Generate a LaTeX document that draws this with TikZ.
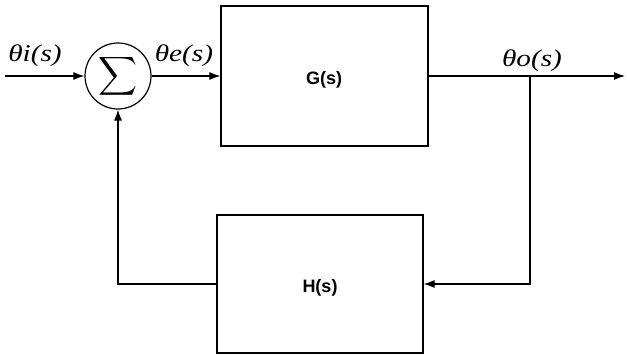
\documentclass[tikz,border=0pt]{standalone}
\usepackage{fontspec}
\usepackage{graphicx}
\setmainfont{Liberation Serif}
\newfontfamily\blocksans{Liberation Sans}
\usetikzlibrary{arrows.meta}
\newcommand{\sigtext}[1]{\scalebox{1.22}[1]{\itshape #1}}
\begin{document}
\begin{tikzpicture}[x=1pt,y=-1pt,
  wire/.style={line width=1.2pt},
  arr/.style={wire,-{Latex[length=11pt,width=8pt]}},
  blockbox/.style={draw,line width=1.2pt,inner sep=0pt},
  sig/.style={font=\fontsize{24}{24}\selectfont,inner sep=0pt},
  btext/.style={font=\blocksans\bfseries\fontsize{18}{18}\selectfont}]
\useasboundingbox (0,0) rectangle (627,356);
\node[draw,circle,line width=1.2pt,minimum size=66pt,inner sep=0pt] (sum) at (118,76) {\scalebox{2.7}{$\displaystyle\sum$}};
\node[blockbox,minimum width=207pt,minimum height=140pt] (G) at (324.5,76) {};
\node[btext] (Gt) at (324,80) {G(s)};
\node[blockbox,minimum width=206pt,minimum height=138pt] (H) at (320,284) {};
\node[btext] (Ht) at (320,288) {H(s)};
\coordinate (in) at (5,76);
\coordinate (out) at (625,76);
\coordinate (br) at (530,76);
\node[sig] (li) at (35,56) {\sigtext{θi(s)}};
\node[sig] (le) at (184,56) {\sigtext{θe(s)}};
\node[sig] (lo) at (532,61) {\sigtext{θo(s)}};
\draw[arr] (in) -- (sum.west);
\draw[arr] (sum.east) -- (G.west);
\draw[arr] (G.east) -- (out);
\draw[arr] (br) |- (H.east);
\draw[arr] (H.west) -| (sum.south);
\end{tikzpicture}
\end{document}
